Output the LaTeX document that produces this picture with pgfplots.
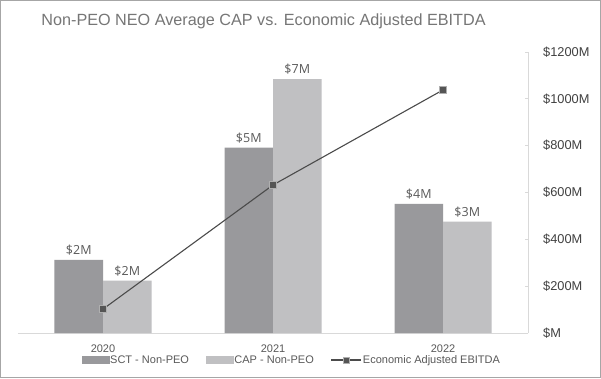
\documentclass[border=0pt]{standalone}
\usepackage{pgfplots}
\pgfplotsset{compat=1.18}
\usepackage{fontspec}
\setmainfont{Liberation Sans}
\newfontfamily\labfont{Open Sans}
\definecolor{sctgray}{RGB}{153,153,156}
\definecolor{capgray}{RGB}{192,192,194}
\definecolor{linegray}{RGB}{75,75,75}
\definecolor{markfill}{RGB}{85,85,85}
\definecolor{markborder}{RGB}{175,175,175}
\definecolor{basegray}{RGB}{217,217,217}
\definecolor{labgray}{RGB}{89,89,89}
\definecolor{axtext}{RGB}{64,64,64}
\definecolor{titlegray}{RGB}{118,118,118}
\definecolor{bordergray}{RGB}{166,166,166}
\begin{document}
\begin{tikzpicture}[x=1pt,y=1pt]
\useasboundingbox (0,0) rectangle (601,378);
\fill[white] (0,0) rectangle (601,378);
\draw[bordergray, line width=1pt] (0.5,0.5) rectangle (600.5,377.5);
\node[font=\fontsize{16.2}{18}\selectfont, text=titlegray] at (263.5,356.5) {Non-PEO NEO Average CAP vs. Economic Adjusted EBITDA};
% bars
\begin{axis}[
  at={(18pt,45pt)}, anchor=south west, scale only axis,
  width=510pt, height=281pt,
  xmin=-0.5, xmax=2.5, ymin=0, ymax=8.145,
  ybar=0pt, bar width=48.5pt,
  axis y line=none, axis x line*=bottom,
  x axis line style={-, draw=basegray, line width=0.8pt},
  xtick={0,1,2}, xticklabels={2020,2021,2022},
  xtick style={draw=none}, major tick length=0pt,
  xticklabel style={font=\fontsize{11}{12}\selectfont, text=labgray, anchor=base, inner sep=0pt, yshift=-19.5pt},
  /pgf/number format/assume math mode=true,
  nodes near coords={\$\pgfmathprintnumber[fixed,precision=0]{\pgfplotspointmeta}M},
  every node near coord/.append style={font=\labfont\fontsize{12.5}{14}\selectfont, text=labgray, anchor=south, inner sep=0pt, yshift=4.5pt},
  clip=false,
]
\addplot[fill=sctgray, draw=none] coordinates {(0,2.12) (1,5.37) (2,3.74)};
\addplot[fill=capgray, draw=none] coordinates {(0,1.52) (1,7.36) (2,3.23)};
\end{axis}
% line
\begin{axis}[
  at={(18pt,45pt)}, anchor=south west, scale only axis,
  width=510pt, height=281pt,
  xmin=-0.5, xmax=2.5, ymin=0, ymax=1200,
  axis x line=none, axis y line*=right,
  y axis line style={-, draw=basegray, line width=0.8pt},
  ytick={0,200,400,600,800,1000,1200},
  yticklabels={\$M,\$200M,\$400M,\$600M,\$800M,\$1000M,\$1200M},
  tick align=inside, major tick length=3pt,
  ytick style={draw=basegray, line width=0.8pt},
  yticklabel style={font=\fontsize{12.8}{14}\selectfont, text=axtext, anchor=west, inner sep=0pt, xshift=15pt},
  legend columns=3,
  legend style={at={(0.536,-0.0961)}, anchor=center, draw=none, fill=none,
    font=\fontsize{11}{12}\selectfont, text=labgray,
    nodes={inner sep=1pt},
    /tikz/every even column/.append style={column sep=16pt}},
  legend cell align=left,
  clip=false,
]
\addlegendimage{legend image code/.code={\fill[sctgray] (0pt,-3.5pt) rectangle (27pt,3.5pt);}}
\addlegendentry{SCT - Non-PEO}
\addlegendimage{legend image code/.code={\fill[capgray] (0pt,-3.5pt) rectangle (27pt,3.5pt);}}
\addlegendentry{CAP - Non-PEO}
\addplot[color=linegray, line width=1.1pt, mark=square*, mark size=3.5pt,
  mark options={fill=markfill, draw=markborder, line width=0.8pt},
  legend image code/.code={\draw[linegray, line width=1.1pt, mark=square*, mark size=2.8pt, mark options={fill=markfill, draw=markborder, line width=0.6pt}, mark repeat=2, mark phase=2] plot coordinates {(0pt,0pt) (15pt,0pt) (30pt,0pt)};}]
  coordinates {(0,102) (1,632) (2,1038)};
\addlegendentry{Economic Adjusted EBITDA}
\end{axis}
\end{tikzpicture}
\end{document}
